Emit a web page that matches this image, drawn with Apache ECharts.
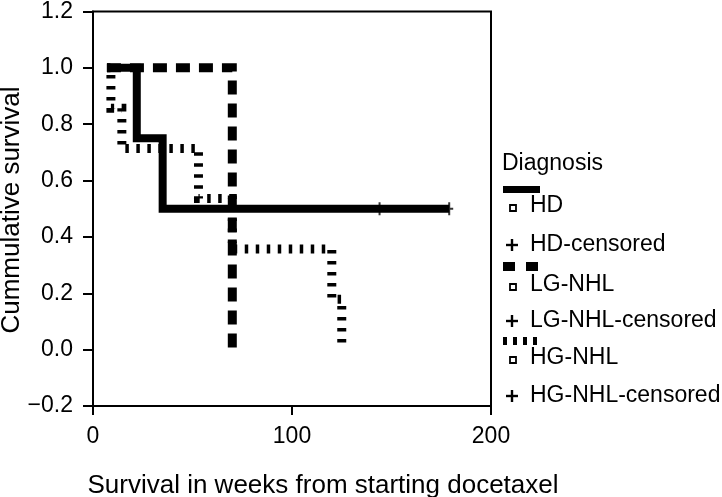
<!DOCTYPE html>
<html>
<head>
<meta charset="utf-8">
<script src="https://cdn.jsdelivr.net/npm/echarts@6/dist/echarts.min.js"></script>
<style>
html,body{margin:0;padding:0;background:#fff;}
#chart{width:722px;height:497px;}
</style>
</head>
<body>
<div id="chart"></div>
<script>
// ---- data ----
var seriesNames = ['HD', 'LG-NHL', 'HG-NHL'];
var legendLabels = ['HD', 'HD-censored', 'LG-NHL', 'LG-NHL-censored', 'HG-NHL', 'HG-NHL-censored'];
// Kaplan-Meier steps: time (weeks) and survival after that time
var hdTimes = [7, 22, 35, 179];
var hdSurv  = [1.0, 0.75, 0.5, 0.5];
var lgTimes = [7, 70];
var lgSurv  = [1.0, 0.0];
var hgTimes = [7, 9, 14.5, 53, 70, 120, 125];
var hgSurv  = [1.0, 0.857, 0.714, 0.536, 0.357, 0.179, 0.0];
// censored observations
var hdCensTimes = [144, 179];
var hdCensSurv  = [0.5, 0.5];
var yTicks = [-0.2, 0, 0.2, 0.4, 0.6, 0.8, 1.0, 1.2];
var xTicks = [0, 100, 200];

function pairs(t, s) { return t.map(function (v, i) { return [v, s[i]]; }); }

var FONT = 'Liberation Sans, Arial, Helvetica, sans-serif';
var chart = echarts.init(document.getElementById('chart'), null, {renderer: 'canvas'});

function legendText(x, y, txt) {
  return {type: 'text', x: x, y: y, style: {text: txt, fill: '#000', font: '23px ' + FONT, textVerticalAlign: 'middle', textAlign: 'left'}};
}
function legendPlus(cx, cy) {
  return {type: 'group', children: [
    {type: 'rect', shape: {x: cx - 1.2, y: cy - 6, width: 2.4, height: 12}, style: {fill: '#000'}},
    {type: 'rect', shape: {x: cx - 6, y: cy - 1.2, width: 12, height: 2.4}, style: {fill: '#000'}}
  ]};
}
function legendSquare(cx, cy) {
  return {type: 'rect', shape: {x: cx - 3, y: cy - 3, width: 6, height: 6}, style: {fill: '#fff', stroke: '#000', lineWidth: 1.8}};
}
function legendLine(y, w, dash) {
  return {type: 'line', shape: {x1: 503, y1: y, x2: 540, y2: y}, style: {stroke: '#000', lineWidth: w, lineDash: dash, lineCap: 'butt'}};
}

var option = {
  backgroundColor: '#fff',
  animation: false,
  grid: {left: 93, right: 231, top: 10, bottom: 91, show: true, borderColor: '#000', borderWidth: 2, backgroundColor: 'transparent'},
  xAxis: {
    type: 'value', min: xTicks[0], max: xTicks[xTicks.length - 1], interval: 100,
    axisLine: {show: true, onZero: false, lineStyle: {color: '#000', width: 2}},
    axisTick: {show: true, length: 9, lineStyle: {color: '#000', width: 2}},
    splitLine: {show: false},
    axisLabel: {color: '#000', fontSize: 23, fontFamily: FONT, margin: 19}
  },
  yAxis: {
    type: 'value', min: yTicks[0], max: yTicks[yTicks.length - 1], interval: 0.2,
    axisLine: {show: true, onZero: false, lineStyle: {color: '#000', width: 2}},
    axisTick: {show: true, length: 10, lineStyle: {color: '#000', width: 2}},
    splitLine: {show: false},
    axisLabel: {color: '#000', fontSize: 23, fontFamily: FONT, margin: 20,
      formatter: function (v) { var s = Math.abs(v).toFixed(1); return v < -1e-9 ? '\u2212' + s : s; }}
  },
  series: [
    {name: seriesNames[1], type: 'line', step: 'end', data: pairs(lgTimes, lgSurv), showSymbol: false, z: 2,
      lineStyle: {color: '#000', width: 9, type: [14, 9], cap: 'butt', join: 'miter'}},
    {name: seriesNames[2], type: 'line', step: 'end', data: pairs(hgTimes, hgSurv), showSymbol: false, z: 3,
      lineStyle: {color: '#000', width: 9, type: [3.5, 7.5], cap: 'butt', join: 'miter'}},
    {name: seriesNames[0], type: 'line', step: 'end', data: pairs(hdTimes, hdSurv), showSymbol: false, z: 4,
      lineStyle: {color: '#000', width: 8, type: 'solid', cap: 'butt', join: 'miter'}},
    {name: legendLabels[1], type: 'scatter', data: pairs(hdCensTimes, hdCensSurv), z: 5,
      symbol: 'path://M3,0h2v13h-2zM0,5.5h8v2h-8z', symbolSize: [8, 13], symbolKeepAspect: false,
      itemStyle: {color: '#000'}}
  ],
  graphic: [
    {type: 'text', x: 12, y: 210, rotation: Math.PI / 2,
      style: {text: 'Cummulative survival', fill: '#000', font: '26px ' + FONT, textAlign: 'center', textVerticalAlign: 'middle'}},
    {type: 'text', x: 323, y: 486,
      style: {text: 'Survival in weeks from starting docetaxel', fill: '#000', font: '26px ' + FONT, textAlign: 'center', textVerticalAlign: 'middle'}},
    legendText(502, 164, 'Diagnosis'),
    legendLine(189.5, 7, null),
    legendSquare(513, 208),
    legendText(530, 206, legendLabels[0]),
    legendPlus(512, 245),
    legendText(530, 245, legendLabels[1]),
    legendLine(266.5, 9, [12, 11]),
    legendSquare(513, 287),
    legendText(530, 285, legendLabels[2]),
    legendPlus(512, 321),
    legendText(530, 321, legendLabels[3]),
    legendLine(341, 8, [4, 6]),
    legendSquare(513, 360),
    legendText(530, 358, legendLabels[4]),
    legendPlus(512, 396),
    legendText(530, 396, legendLabels[5])
  ]
};
chart.setOption(option);
</script>
</body>
</html>
